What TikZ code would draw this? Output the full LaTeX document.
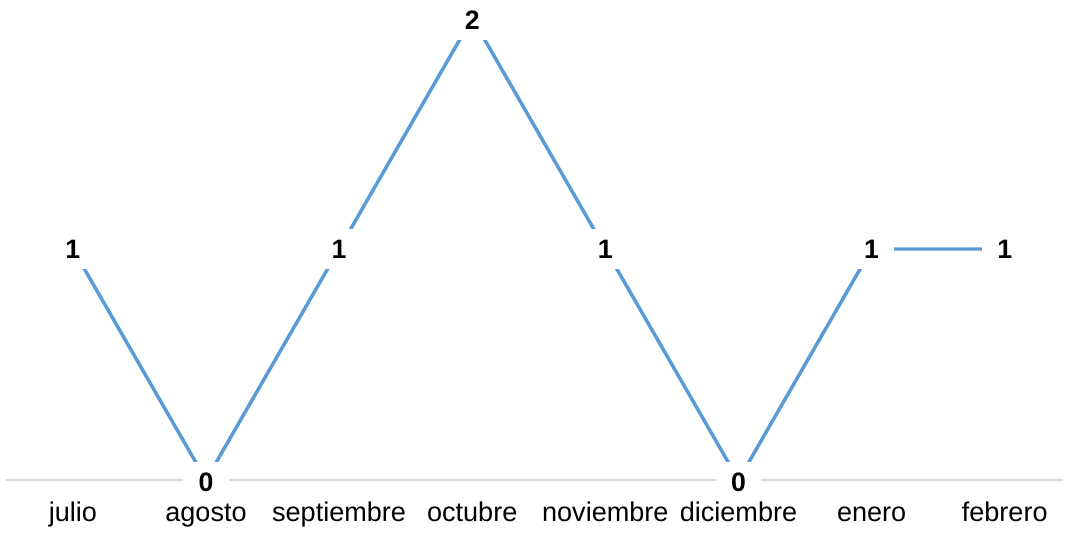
\documentclass[tikz,border=0pt]{standalone}
\usepackage{fontspec}
\setmainfont{Liberation Sans}
\definecolor{serie}{HTML}{5B9BD5}
\definecolor{eje}{HTML}{D9D9D9}
\begin{document}
\begin{tikzpicture}[x=0.75pt,y=-0.75pt,
  dato/.style={fill=white,inner sep=0pt,minimum width=34pt,minimum height=30pt,font=\fontsize{20}{20}\selectfont\bfseries},
  cat/.style={inner sep=0pt,anchor=base,font=\fontsize{20.3}{20}\selectfont},
  serieline/.style={draw=serie,line width=2.6pt},
  axisline/.style={draw=eje,line width=1.1pt}]
\useasboundingbox (0,0) rectangle (1066,532);
% points
\coordinate (p1) at (72.9,249);
\coordinate (p2) at (206,480);
\coordinate (p3) at (339.1,249);
\coordinate (p4) at (472.2,18);
\coordinate (p5) at (605.3,249);
\coordinate (p6) at (738.5,480);
\coordinate (p7) at (871.6,249);
\coordinate (p8) at (1004.7,249);
\coordinate (a0) at (6,480);
\coordinate (a1) at (1063,480);
% axis
\draw[axisline] (a0) -- (a1);
% series
\draw[serieline] (p1) -- (p2) -- (p3) -- (p4) -- (p5) -- (p6) -- (p7) -- (p8);
% data labels
\node[dato] (l1) at (p1) {1};
\node[dato] (l2) at ([yshift=-1.5pt]p2) {0};
\node[dato] (l3) at (p3) {1};
\node[dato] (l4) at ([yshift=-1.5pt]p4) {2};
\node[dato] (l5) at (p5) {1};
\node[dato] (l6) at ([yshift=-1.5pt]p6) {0};
\node[dato] (l7) at (p7) {1};
\node[dato] (l8) at (p8) {1};
% categories
\node[cat] (c1) at (72.9,521) {julio};
\node[cat] (c2) at (206,521) {agosto};
\node[cat] (c3) at (339.1,521) {septiembre};
\node[cat] (c4) at (472.2,521) {octubre};
\node[cat] (c5) at (605.3,521) {noviembre};
\node[cat] (c6) at (738.5,521) {diciembre};
\node[cat] (c7) at (871.6,521) {enero};
\node[cat] (c8) at (1004.7,521) {febrero};
\end{tikzpicture}
\end{document}
